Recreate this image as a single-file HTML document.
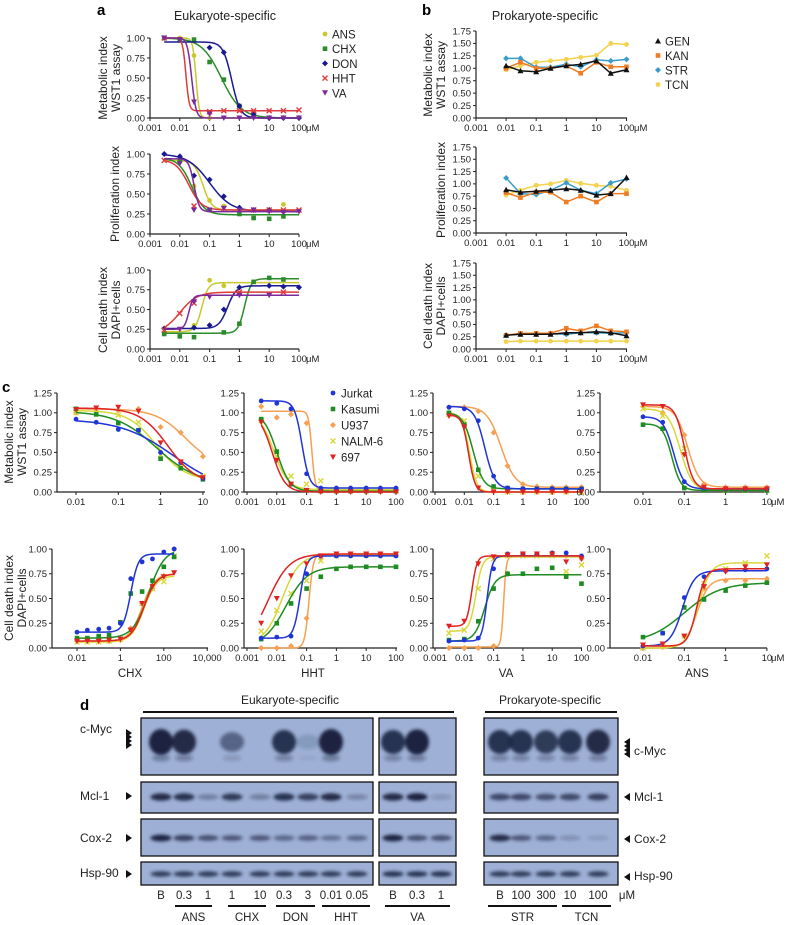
<!DOCTYPE html>
<html><head><meta charset="utf-8">
<style>
html,body{margin:0;padding:0;background:#fff;}
svg{display:block;font-family:"Liberation Sans",sans-serif;}
</style></head>
<body>
<svg id="fig" width="788" height="925" viewBox="0 0 788 925" xmlns="http://www.w3.org/2000/svg">
<defs><filter id="blur" x="-20%" y="-50%" width="140%" height="200%"><feGaussianBlur stdDeviation="1.6"/></filter></defs>
</svg>
<script>
// ---------- DATA ----------
// Panel a
const aConc = [0.003,0.01,0.03,0.1,0.3,1,3,10,30,100];
const aSeriesNames = ["ANS","CHX","DON","HHT","VA"];
// fit params: [bottom, top, ec50, hill(+ = decreasing)]
const aMetFit = [[0,1,0.035,8],[0,1,0.25,1.3],[0,0.95,0.55,3],[0.09,1,0.016,8],[0,1,0.025,6]];
const aMetANS = [1,1,0.78,0,null,null,null,null,null,null];
const aMetCHX = [1,0.98,0.98,0.7,0.48,0.15,0.05,null,null,null];
const aMetDON = [null,null,null,0.88,0.82,0.15,0.05,0,0,0];
const aMetHHT = [1,null,null,0.08,0.09,0.09,0.09,0.09,0.09,0.1];
const aMetVA  = [1,0.98,0.2,0.05,0,0,0,0,0,0];
const aProFit = [[0.3,0.92,0.06,3],[0.24,0.95,0.025,2],[0.28,1.0,0.1,1.2],[0.3,0.93,0.02,2],[0.28,0.94,0.03,5]];
const aProANS = [null,0.9,0.6,0.42,0.35,0.32,0.3,0.3,0.37,null];
const aProCHX = [null,0.92,null,0.3,null,0.25,0.2,0.19,0.22,null];
const aProDON = [1,0.97,0.73,0.68,0.47,0.33,0.3,0.3,0.28,null];
const aProHHT = [0.92,null,0.35,null,0.32,null,0.3,0.3,0.3,0.3];
const aProVA  = [null,0.88,0.3,0.3,0.32,0.3,0.3,0.28,0.27,0.28];
const aDeaFit = [[0.22,0.84,0.055,-4],[0.2,0.89,1.5,-4],[0.26,0.80,0.4,-3],[0.2,0.72,0.01,-1.5],[0.25,0.68,0.02,-6]];
const aDeaANS = [null,null,0.3,0.87,0.8,null,null,null,null,null];
const aDeaCHX = [0.19,0.16,0.15,null,0.21,0.32,0.85,0.9,0.88,null];
const aDeaDON = [0.26,null,0.27,0.3,0.5,0.78,null,0.8,0.79,0.78];
const aDeaHHT = [0.24,0.45,0.58,null,null,0.72,null,null,0.72,null];
const aDeaVA  = [null,0.25,0.6,0.66,null,0.68,null,0.68,null,null];
// Panel b
const bConc = [0.01,0.03,0.1,0.3,1,3,10,30,100];
const bMetGEN = [1.05,0.95,0.93,1.0,1.05,1.08,1.15,0.9,0.97];
const bMetKAN = [1.0,1.12,1.0,1.0,1.05,0.9,1.12,1.03,1.03];
const bMetSTR = [1.2,1.2,1.02,1.02,1.08,1.03,1.17,1.15,1.18];
const bMetTCN = [0.97,1.05,1.12,1.15,1.18,1.22,1.26,1.5,1.48];
const bProGEN = [0.88,0.83,0.85,0.87,0.9,0.87,0.77,0.8,1.13];
const bProKAN = [0.82,0.72,0.83,0.83,0.63,0.75,0.63,0.8,0.8];
const bProSTR = [1.12,0.8,0.78,0.87,1.02,0.87,0.8,1.02,1.1];
const bProTCN = [0.77,0.87,0.97,1.0,1.07,1.01,0.97,0.95,0.87];
const bDeaGEN = [0.28,0.3,0.3,0.3,0.33,0.33,0.35,0.33,0.27];
const bDeaKAN = [0.28,0.32,0.32,0.32,0.42,0.37,0.47,0.37,0.35];
const bDeaSTR = [0.28,0.31,0.3,0.31,0.3,0.33,0.33,0.32,0.33];
const bDeaTCN = [0.15,0.16,0.16,0.16,0.16,0.16,0.16,0.16,0.16];
// Panel c  (order: Jurkat, Kasumi, U937, NALM-6, 697)
const cConcA = [0.01,0.03,0.1,0.3,1,3,10];
const cConcB = [0.003,0.01,0.03,0.1,0.3,1,3,10,30,100];
const cConcC = [0.01,0.03,0.1,0.3,1,3,10,30,100,300];
const cMetCHXfit = [[0,0.92,2,0.7],[0.1,1.02,0.8,0.9],[0.3,1.05,4,1.2],[0.15,1.03,0.8,1.3],[0.1,1.06,1.5,1.3]];
const cMetCHX = [[0.92,0.88,0.79,0.78,0.5,0.37,0.17],[1.05,0.98,0.87,0.78,0.42,0.3,0.16],[1.0,1.02,1.03,1.05,0.82,0.75,0.45],[1.0,1.0,0.97,0.88,0.47,0.32,0.2],[1.04,1.06,1.07,1.02,0.62,0.38,0.18]];
const cMetHHTfit = [[0.05,1.15,0.07,3.5],[0.01,1.0,0.01,2],[0.02,1.02,0.15,8],[0.03,1.0,0.008,1.8],[0,1.0,0.007,2]];
const cMetHHT = [[1.15,1.12,1.05,0.23,0.05,0.05,0.05,0.05,0.05,0.05],[0.92,0.51,0.1,0.02,0.01,0.01,0.01,0.01,0.01,0.01],[1.08,0.94,0.98,0.87,0.02,0.02,0.02,0.02,0.02,0.02],[0.9,0.45,0.2,0.1,0.14,0.02,0.02,0.02,0.02,0.02],[0.88,0.4,0.1,0.02,0,0,0,0,0,0]];
const cMetVAfit = [[0.04,1.08,0.05,2.5],[0.04,1.0,0.02,2.5],[0.06,1.08,0.18,1.8],[0,1.0,0.015,3.5],[0,0.97,0.014,4]];
const cMetVA = [[1.07,1.05,0.9,0.2,0.05,0.04,0.04,0.04,0.04,0.04],[1.0,0.85,0.28,0.07,0.05,0.04,0.04,0.04,0.04,0.04],[1.07,1.07,1.02,0.75,0.33,0.1,0.07,0.06,0.06,0.06],[0.98,0.9,0.2,0.02,0,0,0,0,0,0],[0.96,0.82,0.05,0,0,0,0,0,0,0]];
const cMetANSfit = [[0.04,0.95,0.055,3.5],[0.02,0.86,0.05,4],[0.06,1.08,0.12,3],[0.02,1.05,0.08,3],[0.04,1.1,0.1,4]];
const cMetANS = [[0.95,0.88,0.13,0.05,0.04,0.04,0.04],[0.85,0.8,0.05,0.02,0.02,0.02,0.02],[1.08,1.0,0.72,0.1,0.06,0.06,0.06],[1.05,0.96,0.55,0.05,0.02,0.02,0.02],[1.1,1.08,0.47,0.06,0.04,0.04,0.04]];
const cDeaCHXfit = [[0.16,0.95,3,-2.5],[0.1,1.0,20,-1.2],[0.07,0.75,10,-1.5],[0.06,0.73,12,-1.5],[0.07,0.75,12,-1.5]];
const cDeaCHX = [[0.16,0.18,0.19,0.2,0.25,0.7,0.87,0.9,0.97,1.0],[0.1,0.1,0.12,0.13,0.26,0.55,0.57,0.68,0.82,0.92],[0.07,0.07,0.07,0.07,0.08,0.2,0.45,0.6,0.73,1.0],[0.06,0.06,0.06,0.07,0.09,0.17,0.45,0.6,0.67,0.93],[0.07,0.07,0.07,0.08,0.09,0.18,0.45,0.62,0.72,0.76]];
const cDeaHHTfit = [[0.1,0.93,0.06,-4],[0.02,0.82,0.02,-1.2],[0,0.95,0.12,-6],[0.05,0.94,0.015,-1.5],[0,0.95,0.005,-1.2]];
const cDeaHHT = [[0.1,0.11,0.12,0.75,0.93,0.93,0.93,0.93,0.93,0.93],[0.09,0.25,0.45,0.6,0.72,0.8,0.82,0.82,0.82,0.82],[0,0,0.02,0.3,0.9,0.94,0.94,0.94,0.94,0.94],[0.17,0.38,0.55,0.68,0.88,0.93,0.94,0.94,0.94,0.94],[0.25,0.5,0.73,0.85,0.93,0.95,0.95,0.95,0.95,0.95]];
const cDeaVAfit = [[0.07,0.93,0.06,-5],[0.07,0.74,0.05,-2.5],[0.01,0.92,0.22,-10],[0.17,0.92,0.025,-4],[0.22,0.93,0.018,-5]];
const cDeaVA = [[0.07,0.08,0.1,0.8,0.95,0.95,0.95,0.96,0.96,0.93],[0.08,0.09,0.27,0.6,0.75,0.75,0.8,0.81,0.72,0.65],[0,0,0,0.02,0.75,0.95,0.95,0.95,0.93,0.9],[0.15,0.18,0.6,0.9,0.93,0.93,0.93,0.93,0.77,0.84],[0.22,0.27,0.85,0.92,0.94,0.95,0.95,0.95,0.87,0.9]];
const cDeaANSfit = [[0.02,0.78,0.09,-3],[0.05,0.66,0.1,-1],[0,0.7,0.2,-3],[0,0.86,0.22,-3],[0.02,0.8,0.2,-4]];
const cDeaANS = [[0.02,0.15,0.51,0.72,0.78,0.79,0.8],[0.11,0.15,0.41,0.49,0.58,0.63,0.66],[0,0.01,0.12,0.6,0.68,0.68,0.7],[0,0.02,0.12,0.65,0.8,0.86,0.93],[0.03,0.04,0.12,0.62,0.77,0.82,0.84]];
const cCellLines = ["Jurkat","Kasumi","U937","NALM-6","697"];
// Panel d band intensities
const dMycEuk = [1,0.9,0,0.5,0,0.85,0.15,1.0,0];
const dMycVA = [0.85,0.95,0];
const dMycPro = [0.85,0.85,0.8,0.85,0.9];
const dMclEuk = [0.9,0.85,0.35,0.8,0.35,0.85,0.75,0.9,0.3];
const dMclVA = [0.9,0.95,0.2];
const dMclPro = [0.7,0.7,0.65,0.7,0.75];
const dCoxEuk = [0.95,0.75,0.65,0.6,0.6,0.5,0.55,0.45,0.5];
const dCoxVA = [0.95,0.65,0.65];
const dCoxPro = [0.9,0.6,0.5,0.25,0.15];
const dHspEuk = [0.8,0.8,0.8,0.8,0.8,0.8,0.8,0.8,0.8];
const dHspVA = [0.85,0.85,0.85];
const dHspPro = [0.8,0.8,0.8,0.8,0.8];
const dLaneLabelsEuk = ["B","0.3","1","1","10","0.3","3","0.01","0.05"];
const dLaneLabelsVA = ["B","0.3","1"];
const dLaneLabelsPro = ["B","100","300","10","100"];

// ---------- DRAWING ----------
const svg = document.getElementById('fig');
const NS = 'http://www.w3.org/2000/svg';
function mk(tag, attrs, parent){
  const e = document.createElementNS(NS, tag);
  for (const k in attrs) e.setAttribute(k, attrs[k]);
  (parent||svg).appendChild(e);
  return e;
}
function txt(x,y,s,size,anchor,parent,extra){
  const t = mk('text',Object.assign({x:x,y:y,'font-size':size,'text-anchor':anchor||'middle',fill:'#222'},extra||{}),parent);
  t.textContent = s;
  return t;
}
function sig(x,p){ return p[0] + (p[1]-p[0])/(1+Math.pow(x/p[2],p[3])); }

function marker(g,shape,x,y,col){
  let m;
  if(shape==='circle') m = mk('circle',{cx:x,cy:y,r:2.4,fill:col},g);
  else if(shape==='square') m = mk('rect',{x:x-2.3,y:y-2.3,width:4.6,height:4.6,fill:col},g);
  else if(shape==='diamond') m = mk('polygon',{points:`${x},${y-3} ${x+3},${y} ${x},${y+3} ${x-3},${y}`,fill:col},g);
  else if(shape==='tri') m = mk('polygon',{points:`${x-3},${y+2.5} ${x+3},${y+2.5} ${x},${y-3}`,fill:col},g);
  else if(shape==='dtri') m = mk('polygon',{points:`${x-3},${y-2.5} ${x+3},${y-2.5} ${x},${y+3}`,fill:col},g);
  else m = mk('path',{d:`M${x-2.5},${y-2.5}L${x+2.5},${y+2.5}M${x+2.5},${y-2.5}L${x-2.5},${y+2.5}`,stroke:col,'stroke-width':1.4},g);
  
  
  return m;
}

function axes(cfg){
  const g = mk('g',{});
  
  
  const sx = v => cfg.x0 + (Math.log10(v)-cfg.logMin)*cfg.dec;
  const sy = v => cfg.y0Px - v/cfg.yTopVal*(cfg.y0Px-cfg.yTopPx);
  const ax = mk('path',{d:`M${cfg.axX},${cfg.yTopPx}V${cfg.y0Px}H${cfg.xEnd}`,stroke:'#222','stroke-width':1.2,fill:'none'},g);
  
  
  for(let v=0; v<=cfg.yTopVal+1e-9; v+=cfg.yStep){
    const y = sy(v);
    mk('path',{d:`M${cfg.axX-3},${y}H${cfg.axX}`,stroke:'#222','stroke-width':1},g);
    const t = txt(cfg.axX-5,y+3.3,v.toFixed(2),9.5,'end',g);
    
    
  }
  cfg.xTickVals.forEach((v,i)=>{
    const x = sx(v);
    mk('path',{d:`M${x},${cfg.y0Px}V${cfg.y0Px+3}`,stroke:'#222','stroke-width':1},g);
    const t = txt(x,cfg.y0Px+13,cfg.xTickLabels[i],9.5,'middle',g);
    
    
  });
  if(cfg.unit){
    const t = txt(cfg.unitX,cfg.y0Px+13,'μM',9.5,'start',g);
    
    
  }
  return {g,sx,sy};
}

function fitSeries(A,conc,vals,fit,col,shape,name){
  const g = mk('g',{},A.g);
  
  
  const lmin = Math.log10(conc[0]), lmax = Math.log10(conc[conc.length-1]);
  let d='';
  for(let i=0;i<=120;i++){
    const lx = lmin + (lmax-lmin)*i/120;
    const v = sig(Math.pow(10,lx),fit);
    d += (i?'L':'M')+A.sx(Math.pow(10,lx)).toFixed(2)+','+A.sy(v).toFixed(2);
  }
  const p = mk('path',{d:d,stroke:col,'stroke-width':1.5,fill:'none'},g);
  
  
  conc.forEach((c,i)=>{ if(vals[i]!==null && vals[i]!==undefined) marker(g,shape,A.sx(c),A.sy(vals[i]),col); });
}
function lineSeries(A,conc,vals,col,shape,name){
  const g = mk('g',{},A.g);
  
  
  const d = conc.map((c,i)=>(i?'L':'M')+A.sx(c)+','+A.sy(vals[i])).join('');
  const p = mk('path',{d:d,stroke:col,'stroke-width':1.5,fill:'none'},g);
  
  
  conc.forEach((c,i)=>marker(g,shape,A.sx(c),A.sy(vals[i]),col));
}
function rotLabel(x,y,lines,name){
  const g = mk('g',{transform:`translate(${x},${y}) rotate(-90)`});
  
  
  lines.forEach((s,i)=>txt(0,i*13,s,12,'middle',g));
}

let t;
t = txt(97,15,'a',15,'start',svg,{'font-weight':'bold',fill:'#000'});


t = txt(225,20,'Eukaryote-specific',12.5,'middle');


t = txt(422,15,'b',15,'start',svg,{'font-weight':'bold',fill:'#000'});


t = txt(545,20,'Prokaryote-specific',12.5,'middle');


t = txt(2,392,'c',15,'start',svg,{'font-weight':'bold',fill:'#000'});


t = txt(80,710,'d',15,'start',svg,{'font-weight':'bold',fill:'#000'});



// Panel a
const aCols = ['#c9c92e','#2a8c2a','#1a1a90','#e03a3a','#7a2a9a'];
const aShapes = ['circle','square','diamond','x','dtri'];
const logTicks = [0.001,0.01,0.1,1,10,100];
const logTickLabels = ['0.001','0.01','0.1','1','10','100'];
const aBase = {axX:150,x0:150,logMin:-3,dec:29.8,xEnd:299,yTopVal:1,yStep:0.25,xTickVals:logTicks,xTickLabels:logTickLabels,unit:true,unitX:306};
const aMet = axes(Object.assign({},aBase,{name:'panel-a-metabolic-chart',yTopPx:38,y0Px:118}));
const aPro = axes(Object.assign({},aBase,{name:'panel-a-proliferation-chart',yTopPx:154,y0Px:234}));
const aDea = axes(Object.assign({},aBase,{name:'panel-a-celldeath-chart',yTopPx:270,y0Px:349}));
[aMetANS,aMetCHX,aMetDON,aMetHHT,aMetVA].forEach((v,i)=>fitSeries(aMet,aConc,v,aMetFit[i],aCols[i],aShapes[i],'series-'+aSeriesNames[i].toLowerCase()));
[aProANS,aProCHX,aProDON,aProHHT,aProVA].forEach((v,i)=>fitSeries(aPro,aConc,v,aProFit[i],aCols[i],aShapes[i],'series-'+aSeriesNames[i].toLowerCase()));
[aDeaANS,aDeaCHX,aDeaDON,aDeaHHT,aDeaVA].forEach((v,i)=>fitSeries(aDea,aConc,v,aDeaFit[i],aCols[i],aShapes[i],'series-'+aSeriesNames[i].toLowerCase()));
rotLabel(107,78,['Metabolic index','WST1 assay'],'y-axis-title');
rotLabel(119,194,['Proliferation index'],'y-axis-title');
rotLabel(107,310,['Cell death index','DAPI+cells'],'y-axis-title');
aSeriesNames.forEach((n,i)=>{
  const g = mk('g',{});
  
  
  marker(g,aShapes[i],325,34+i*14.7,aCols[i]);
  txt(332,38.5+i*14.7,n,11.5,'start',g);
});

// Panel b
const bCols = ['#111','#f07c22','#3a9ccc','#f2d24e'];
const bShapes = ['tri','square','diamond','circle'];
const bNames = ['GEN','KAN','STR','TCN'];
const bBase = {axX:476,x0:476,logMin:-3,dec:30.1,xEnd:627,yTopVal:1.75,yStep:0.25,xTickVals:logTicks,xTickLabels:logTickLabels,unit:true,unitX:634};
const bMet = axes(Object.assign({},bBase,{name:'panel-b-metabolic-chart',yTopPx:31,y0Px:118}));
const bPro = axes(Object.assign({},bBase,{name:'panel-b-proliferation-chart',yTopPx:147,y0Px:233}));
const bDea = axes(Object.assign({},bBase,{name:'panel-b-celldeath-chart',yTopPx:263,y0Px:349}));
[bMetTCN,bMetSTR,bMetKAN,bMetGEN].forEach((v,j)=>{const i=3-j; lineSeries(bMet,bConc,v,bCols[i],bShapes[i],'series-'+bNames[i].toLowerCase());});
[bProTCN,bProSTR,bProKAN,bProGEN].forEach((v,j)=>{const i=3-j; lineSeries(bPro,bConc,v,bCols[i],bShapes[i],'series-'+bNames[i].toLowerCase());});
[bDeaTCN,bDeaSTR,bDeaKAN,bDeaGEN].forEach((v,j)=>{const i=3-j; lineSeries(bDea,bConc,v,bCols[i],bShapes[i],'series-'+bNames[i].toLowerCase());});
rotLabel(432,75,['Metabolic index','WST1 assay'],'y-axis-title');
rotLabel(445,190,['Proliferation index'],'y-axis-title');
rotLabel(432,306,['Cell death index','DAPI+cells'],'y-axis-title');
bNames.forEach((n,i)=>{
  const g = mk('g',{});
  
  
  marker(g,bShapes[i],658,41+i*14.5,bCols[i]);
  txt(665,45.5+i*14.5,n,11.5,'start',g);
});

// Panel c
const cCols = ['#1f35d6','#1e8c22','#f5a052','#d8d83a','#e02222'];
const cShapes = ['circle','square','diamond','x','dtri'];
const topY = {yTopVal:1.25,yTopPx:393,y0Px:492,yStep:0.25};
const botY = {yTopVal:1.0,yTopPx:549,y0Px:648,yStep:0.25};
const cfgCHXt = {axX:57,x0:76,logMin:-2,dec:42.3,xEnd:205,xTickVals:[0.01,0.1,1,10],xTickLabels:['0.01','0.1','1','10']};
const cfgHHT = {axX:244,x0:247,logMin:-3,dec:29.8,xEnd:397,xTickVals:logTicks,xTickLabels:logTickLabels};
const cfgVA = {axX:433,x0:435,logMin:-3,dec:29.3,xEnd:582,xTickVals:logTicks,xTickLabels:logTickLabels};
const cfgANSt = {axX:600,x0:643,logMin:-2,dec:41.3,xEnd:767,xTickVals:[0.01,0.1,1,10],xTickLabels:['0.01','0.1','1','10'],unit:true,unitX:771};
const cfgCHXb = {axX:52,x0:77,logMin:-2,dec:21.7,xEnd:208,xTickVals:[0.01,1,100,10000],xTickLabels:['0.01','1','100','10,000']};
const cfgANSb = Object.assign({},cfgANSt,{axX:610});
const cAx = [
  axes(Object.assign({name:'panel-c-chx-metabolic'},cfgCHXt,topY)),
  axes(Object.assign({name:'panel-c-hht-metabolic'},cfgHHT,topY)),
  axes(Object.assign({name:'panel-c-va-metabolic'},cfgVA,topY)),
  axes(Object.assign({name:'panel-c-ans-metabolic'},cfgANSt,topY)),
  axes(Object.assign({name:'panel-c-chx-celldeath'},cfgCHXb,botY)),
  axes(Object.assign({name:'panel-c-hht-celldeath'},cfgHHT,botY)),
  axes(Object.assign({name:'panel-c-va-celldeath'},cfgVA,botY)),
  axes(Object.assign({name:'panel-c-ans-celldeath'},cfgANSb,botY))
];
const cSets = [
  [cConcA,cMetCHX,cMetCHXfit],[cConcB,cMetHHT,cMetHHTfit],[cConcB,cMetVA,cMetVAfit],[cConcA,cMetANS,cMetANSfit],
  [cConcC,cDeaCHX,cDeaCHXfit],[cConcB,cDeaHHT,cDeaHHTfit],[cConcB,cDeaVA,cDeaVAfit],[cConcA,cDeaANS,cDeaANSfit]
];
const cOrder = [2,3,1,0,4];
cSets.forEach((s,k)=>{
  cOrder.forEach(i=>fitSeries(cAx[k],s[0],s[1][i],s[2][i],cCols[i],cShapes[i],'series-'+cCellLines[i].toLowerCase()));
});
[['CHX',130],['HHT',313],['VA',506],['ANS',697]].forEach(d=>{
  const tt = txt(d[1],677,d[0],11.5,'middle');
  
  
});
rotLabel(13,442,['Metabolic index','WST1 assay'],'y-axis-title');
rotLabel(13,598,['Cell death index','DAPI+cells'],'y-axis-title');
cCellLines.forEach((n,i)=>{
  const g = mk('g',{});
  
  
  marker(g,cShapes[i],333,393+i*16,cCols[i]);
  txt(341,397.5+i*16,n,11.5,'start',g);
});

// Panel d
const dEukLanes = [161,184,208,232,260,284,308,331,357];
const dVALanes = [393,417,441];
const dProLanes = [500,521,546,570,598];
function blotBox(x1,x2,y1,y2,name){
  const r = mk('rect',{x:x1,y:y1,width:x2-x1,height:y2-y1,fill:'#9eb0d5',stroke:'#111','stroke-width':1.3});
  
  
}
function bands(lanes,vals,cy,w,h,name){
  const g = mk('g',{filter:'url(#blur)'});
  
  
  lanes.forEach((x,i)=>{
    if(vals[i]<=0.02) return;
    const e = mk('ellipse',{cx:x,cy:cy,rx:w/2,ry:h/2*(0.5+0.5*vals[i]),fill:'#1b2240','fill-opacity':Math.min(1,vals[i]*1.05)},g);
    
    
  });
}
const rows = [
  {y1:718,y2:775,cy:742,h:26,w:24,name:'c-myc',vals:[dMycEuk,dMycVA,dMycPro]},
  {y1:782,y2:813,cy:797,h:8,w:21,name:'mcl-1',vals:[dMclEuk,dMclVA,dMclPro]},
  {y1:819,y2:856,cy:838,h:7,w:21,name:'cox-2',vals:[dCoxEuk,dCoxVA,dCoxPro]},
  {y1:862,y2:885,cy:874,h:6,w:21,name:'hsp-90',vals:[dHspEuk,dHspVA,dHspPro]}
];
rows.forEach(r=>{
  blotBox(141,373,r.y1,r.y2,'blot-'+r.name+'-eukaryote');
  blotBox(379,456,r.y1,r.y2,'blot-'+r.name+'-va');
  blotBox(484,618,r.y1,r.y2,'blot-'+r.name+'-prokaryote');
  bands(dEukLanes,r.vals[0],r.cy,r.w,r.h,'bands-'+r.name);
  bands(dVALanes,r.vals[1],r.cy,r.w,r.h,'bands-'+r.name);
  bands(dProLanes,r.vals[2],r.cy,r.w,r.h,'bands-'+r.name);
});
[dEukLanes,dVALanes,dProLanes].forEach((L,k)=>{
  const v=[dMycEuk,dMycVA,dMycPro][k];
  bands(L,v.map(x=>x*0.35),758,18,10,'c-myc-smear');
});
[['c-Myc',733],['Mcl-1',800],['Cox-2',842],['Hsp-90',877]].forEach((d,i)=>{
  const tt = txt(80,d[1],d[0],12,'start');
  
  
});
[['c-Myc',755],['Mcl-1',801],['Cox-2',843],['Hsp-90',880]].forEach(d=>{
  const tt = txt(634,d[1],d[0],12,'start');
  
  
});
function arrow(x,y,dir){
  const a = mk('polygon',{points:dir>0?`${x},${y-4} ${x+6},${y} ${x},${y+4}`:`${x},${y-4} ${x-6},${y} ${x},${y+4}`,fill:'#111'});
  
  
}
[733,737,741,745].forEach(y=>arrow(126,y,1));
[796,838,874].forEach(y=>arrow(126,y,1));
[742,746,750,754].forEach(y=>arrow(630,y,-1));
[797,839,877].forEach(y=>arrow(630,y,-1));
t = txt(290,704,'Eukaryote-specific',12,'middle');


t = txt(550,704,'Prokaryote-specific',12,'middle');


[[143,454,712],[485,617,712]].forEach(l=>{
  const p = mk('path',{d:`M${l[0]},${l[2]}H${l[1]}`,stroke:'#111','stroke-width':2});
  
  
});
[[dEukLanes,dLaneLabelsEuk],[dVALanes,dLaneLabelsVA],[dProLanes,dLaneLabelsPro]].forEach(s=>{
  s[0].forEach((x,i)=>{
    const tt = txt(x,899,s[1][i],11.5,'middle');
    
    
  });
});
t = txt(627,899,'μM',11.5,'middle');


[[175,212,'ANS'],[228,266,'CHX'],[276,315,'DON'],[322,370,'HHT'],[385,450,'VA'],[488,557,'STR'],[562,611,'TCN']].forEach(d=>{
  const p = mk('path',{d:`M${d[0]},906H${d[1]}`,stroke:'#111','stroke-width':2});
  
  
  const tt = txt((d[0]+d[1])/2,921,d[2],11.5,'middle');
  
  
});
</script>
</body></html>
